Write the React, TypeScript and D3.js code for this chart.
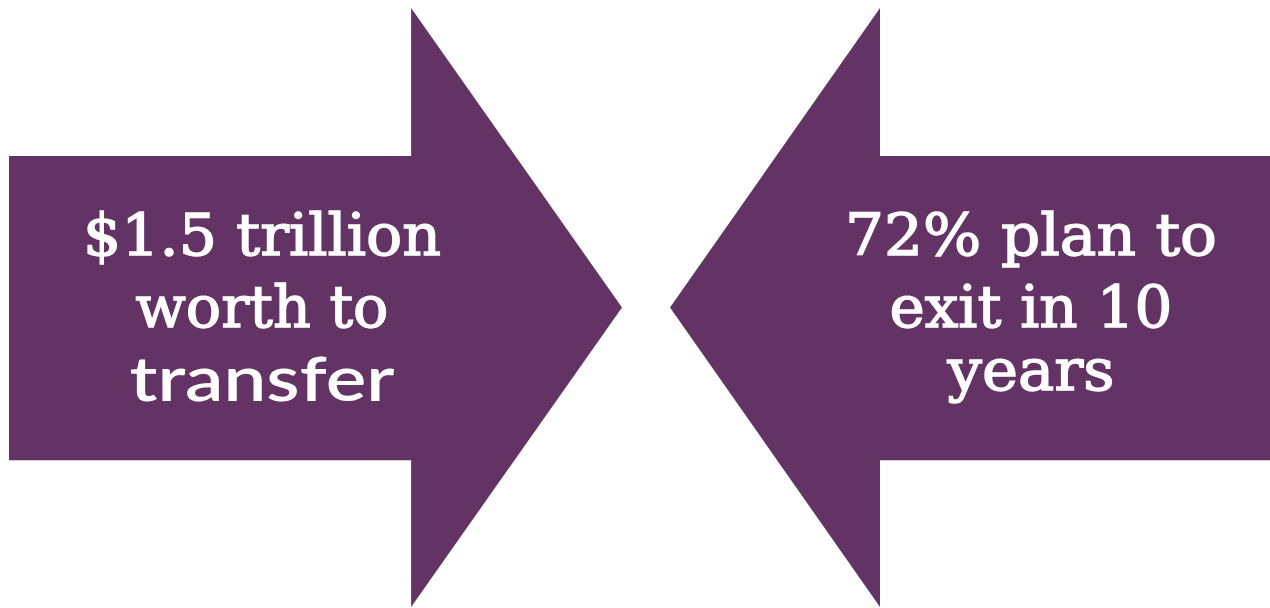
import React, { useRef, useEffect } from 'react';
import * as d3 from 'd3';

// text on each arrow, one entry per line
const leftLines = ['$1.5 trillion', 'worth to', 'transfer'];
const rightLines = ['72% plan to', 'exit in 10', 'years'];

// unit arrow outline: x goes from tail (0) to tip (1), y from top (0) to bottom (1)
// neck is the point where the head starts, filled in per arrow
const arrowShape = (neck: number): [number, number][] => [
  [0, 0.247],
  [neck, 0.247],
  [neck, 0],
  [1, 0.5],
  [neck, 1],
  [neck, 0.755],
  [0, 0.755],
];

const App: React.FC = () => {
  const svgRef = useRef<SVGSVGElement>(null);

  useEffect(() => {
    const svg = d3.select(svgRef.current);
    svg.selectAll('*').remove();

    const width = 1270;
    const height = 608;
    const fill = '#643366';

    const y = d3.scaleLinear().domain([0, 1]).range([8, 607]);

    // 's' = slab serif line, 'g' = sans line
    const arrows = [
      { x: d3.scaleLinear().domain([0, 1]).range([9, 622]), neck: 0.656, lines: leftLines, cx: 262,
        kinds: ['s', 's', 'g'], widths: [358, 253, 265], baselines: [255, 327, 401] },
      { x: d3.scaleLinear().domain([0, 1]).range([width, 670]), neck: 0.65, lines: rightLines, cx: 1031,
        kinds: ['s', 's', 's'], widths: [372, 283, 167], baselines: [255, 327, 390] },
    ];

    const line = d3.line<[number, number]>();

    svg.attr('width', width).attr('height', height);

    arrows.forEach(a => {
      svg.append('path')
        .attr('d', line(arrowShape(a.neck).map(([u, v]) => [a.x(u), y(v)]))! + 'Z')
        .attr('fill', fill);

      a.lines.forEach((txt, i) => {
        const sansLine = a.kinds[i] === 'g';
        const t = svg.append('text')
          .attr('x', a.cx)
          .attr('y', a.baselines[i])
          .attr('text-anchor', 'middle')
          .attr('fill', '#fff')
          .attr('textLength', a.widths[i])
          .attr('lengthAdjust', 'spacingAndGlyphs')
          .text(txt);
        if (sansLine) {
          t.style('font-family', 'Lato, "Noto Sans", sans-serif')
            .style('font-weight', '600')
            .style('font-size', '62px');
        } else {
          t.style('font-family', '"DejaVu Serif", serif')
            .style('font-size', '57px')
            .attr('stroke', '#fff')
            .attr('stroke-width', 1.4);
        }
      });
    });
  }, []);

  return (
    <svg
      ref={svgRef}
      style={{ position: 'fixed', left: 0, top: 0, display: 'block', background: '#fff' }}
    />
  );
};

export default App;
